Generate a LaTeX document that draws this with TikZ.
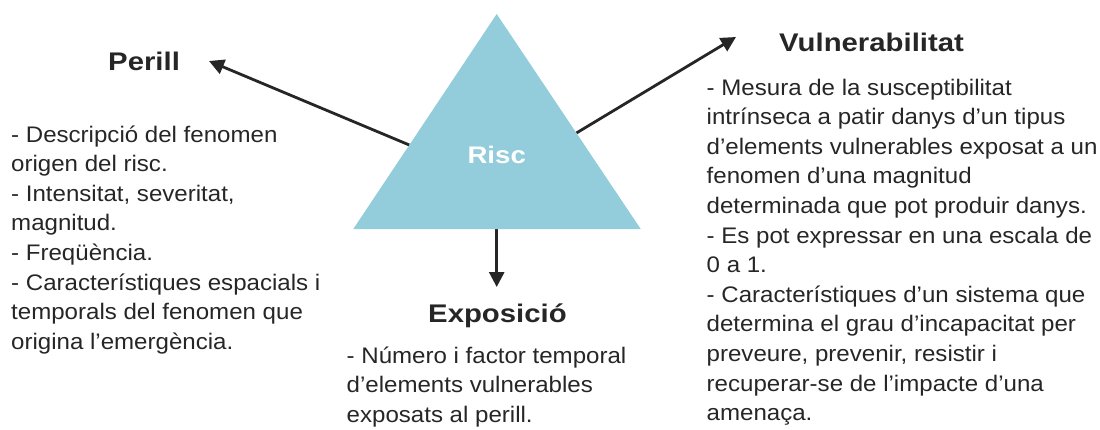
\documentclass[tikz,border=0pt]{standalone}
\usepackage{fontspec}
\setmainfont{Liberation Sans}[FakeStretch=1.07]
\newfontfamily\headfont{Liberation Sans}[FakeStretch=1.15]
\usetikzlibrary{arrows.meta}

\definecolor{inkgray}{HTML}{262626}
\definecolor{riskblue}{HTML}{93CDDB}

% stacked left-aligned lines; the baseline is that of the first line
\newcommand\textlines[1]{\vtop{\baselineskip=29.6pt\lineskiplimit=-20pt
  \halign{##\hfil\cr #1\crcr}}}

\tikzset{
  heading/.style={anchor=base west, inner sep=0pt, text=inkgray,
    font=\headfont\fontsize{25.5}{30}\selectfont\bfseries},
  bodytext/.style={anchor=base west, inner sep=0pt, text=inkgray,
    font=\fontsize{22.5}{29.6}\selectfont},
  linkarrow/.style={draw=inkgray, line width=2.8pt,
    -{Triangle[length=15pt, width=15pt]}},
}

\begin{document}
\begin{tikzpicture}[x=1pt, y=-1pt]
\useasboundingbox (0,0) rectangle (1100,429);

% corners of the risk triangle and the points where the arrows leave it
\coordinate (apex) at (496.7,14);
\coordinate (baseL) at (353.3,229);
\coordinate (baseR) at (640.7,229);
\coordinate (outL) at (409.3,145);
\coordinate (outR) at (576.4,133);
\coordinate (outB) at (496.7,229);

% arrow ends beside the headings
\coordinate (tipL) at (209,61);
\coordinate (tipR) at (736,37);
\coordinate (tipB) at (496.7,287);

% headings
\node[heading] (perill) at (108,70) {Perill};
\node[heading] (vuln) at (779,51) {Vulnerabilitat};
\node[heading] (expo) at (428,322) {Exposició};

% arrows
\draw[linkarrow] (outL) -- (tipL);
\draw[linkarrow] (outR) -- (tipR);
\draw[linkarrow] (outB) -- (tipB);

% triangle
\fill[riskblue] (apex) -- (baseR) -- (baseL) -- cycle;
\node[inner sep=0pt, anchor=base, text=white,
  font=\headfont\fontsize{24}{28}\selectfont\bfseries] (risc) at (496.7,163) {Risc};

% descriptions
\node[bodytext] (perilltext) at (11,142) {\textlines{%
- Descripció del fenomen\cr
origen del risc.\cr
- Intensitat, severitat,\cr
magnitud.\cr
- Freqüència.\cr
- Característiques espacials i\cr
temporals del fenomen que\cr
origina l’emergència.}};

\node[bodytext] (vulntext) at (706.5,95) {\textlines{%
- Mesura de la susceptibilitat\cr
intrínseca a patir danys d’un tipus\cr
d’elements vulnerables exposat a un\cr
fenomen d’una magnitud\cr
determinada que pot produir danys.\cr
- Es pot expressar en una escala de\cr
0 a 1.\cr
- Característiques d’un sistema que\cr
determina el grau d’incapacitat per\cr
preveure, prevenir, resistir i\cr
recuperar-se de l’impacte d’una\cr
amenaça.}};

\node[bodytext] (expotext) at (346.5,363) {\textlines{%
- Número i factor temporal\cr
d’elements vulnerables\cr
exposats al perill.}};
\end{tikzpicture}
\end{document}
